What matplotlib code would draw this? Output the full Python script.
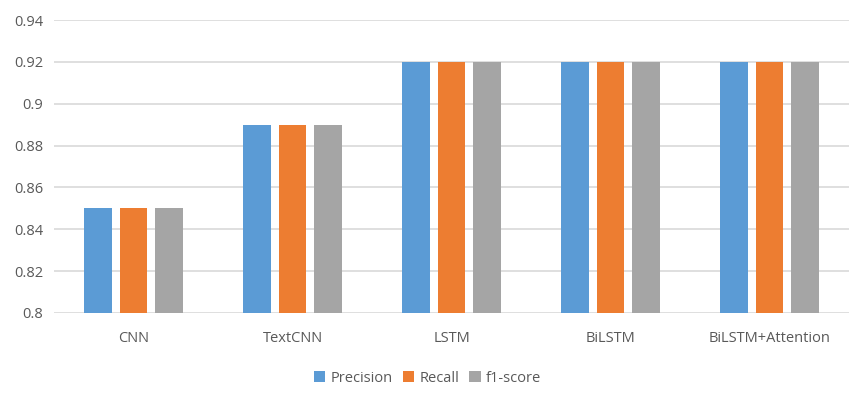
import numpy as np
import matplotlib.pyplot as plt

models = ['CNN', 'TextCNN', 'LSTM', 'BiLSTM', 'BiLSTM+Attention']
precision = [0.85, 0.89, 0.92, 0.92, 0.92]
recall = [0.85, 0.89, 0.92, 0.92, 0.92]
f1_score = [0.85, 0.89, 0.92, 0.92, 0.92]

series = [('Precision', precision, '#5B9BD5'),
          ('Recall', recall, '#ED7D31'),
          ('f1-score', f1_score, '#A5A5A5')]

text_color = '#595959'
plt.rcParams['font.family'] = ['Open Sans', 'DejaVu Sans']

fig = plt.figure(figsize=(8.55, 4.03), dpi=100)
ax = fig.add_axes([54 / 855, 1 - 313 / 403, (849 - 54) / 855, (313 - 20) / 403])

x = np.arange(len(models))
width = 0.176
step = 0.223
for i, (name, vals, color) in enumerate(series):
    ax.bar(x + (i - 1) * step, np.array(vals) - 0.8, width, bottom=0.8,
           color=color, label=name, zorder=3)

ax.set_xlim(-0.5, len(models) - 0.5)
ax.set_ylim(0.8, 0.94)
yticks = np.arange(0.80, 0.9401, 0.02)
ax.set_yticks(yticks)
ax.set_yticklabels(['%g' % round(v, 2) for v in yticks])
ax.set_xticks(x)
ax.set_xticklabels(models)
ax.grid(axis='y', color='#D9D9D9', linewidth=1.2, zorder=0)
for s in ax.spines.values():
    s.set_visible(False)
ax.tick_params(axis='both', length=0, labelsize=10.5, colors=text_color)
ax.tick_params(axis='x', pad=13)
ax.tick_params(axis='y', pad=8)

leg = fig.legend(loc='center', bbox_to_anchor=(0.5, 1 - 378 / 403), ncol=3,
                 frameon=False, fontsize=10.5, handlelength=0.8, handleheight=0.8,
                 handletextpad=0.35, columnspacing=0.7)
for t in leg.get_texts():
    t.set_color(text_color)

fig.savefig('out.png', dpi=100)
